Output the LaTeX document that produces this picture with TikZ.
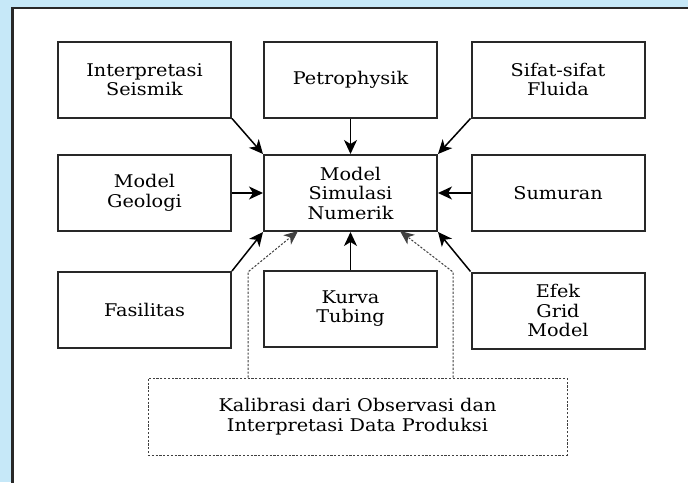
\documentclass[tikz,border=0pt]{standalone}
\usepackage{fontspec}
\setmainfont{DejaVu Serif}[FakeStretch=1.1]
\usetikzlibrary{arrows.meta}
\definecolor{skyback}{RGB}{198,232,248}
\definecolor{boxline}{RGB}{40,40,40}
\tikzset{
  factor/.style={draw=boxline, line width=2pt, fill=white, minimum width=173pt,
    minimum height=76pt, align=center, inner sep=0pt,
    font=\fontsize{17.5}{19.5}\selectfont},
  calib/.style={draw=black!75, line width=1pt, dash pattern=on 2.2pt off 1.6pt,
    minimum width=419pt, minimum height=77pt, align=center, inner sep=0pt,
    font=\fontsize{17.5}{19.5}\selectfont},
  feed/.style={line width=1.5pt, -{Stealth[length=14pt,width=13pt,inset=4pt]}},
  obs/.style={draw=black!75, line width=1pt, dash pattern=on 2.2pt off 1.6pt,
    -{Stealth[length=14pt,width=12pt,inset=4pt]}}
}
\begin{document}
\begin{tikzpicture}[x=1pt, y=-1pt]
  \useasboundingbox (0,0) rectangle (688,482);
  \clip (0,0) rectangle (688,482);
  % Background and panel
  \fill[skyback] (0,0) rectangle (688,482);
  \draw[boxline, line width=2.2pt, fill=white] (12.5,8) rectangle (720,520);

  % Input boxes
  \foreach \name/\x/\y/\txt in {
      seis/144.5/79.5/{Interpretasi\\Seismik},
      petro/350.5/79.5/{Petrophysik},
      fluid/558/79.5/{Sifat-sifat\\Fluida},
      geo/144.5/193/{Model\\Geologi},
      sumur/558/193/{Sumuran},
      fasil/144.5/310/{Fasilitas},
      kurva/350.5/308.5/{Kurva\\Tubing},
      efek/558/310.5/{Efek\\Grid\\Model}} {
    \node[factor] (\name) at (\x,\y) {\txt};
  }
  % Simulation model
  \node[factor] (model) at (350.5,193) {Model\\Simulasi\\Numerik};

  % Calibration box
  \node[calib] (kalib) at (357.5,416.5) {Kalibrasi dari Observasi dan\\Interpretasi Data Produksi};

  % Arrows into the model
  \draw[feed] (seis.south east) -- (model.north west);
  \draw[feed] (petro) -- (model);
  \draw[feed] (fluid.south west) -- (model.north east);
  \draw[feed] (geo) -- (model);
  \draw[feed] (sumur) -- (model);
  \draw[feed] (fasil.north east) -- (model.south west);
  \draw[feed] (kurva) -- (model);
  \draw[feed] (efek.north west) -- (model.south east);

  % Calibration feedback
  \coordinate (bendL) at (248,272);
  \coordinate (bendR) at (453,272);
  \coordinate (tipL) at (298,231);
  \coordinate (tipR) at (400,231);
  \draw[obs] (kalib.north -| bendL) -- (bendL) -- (tipL);
  \draw[obs] (kalib.north -| bendR) -- (bendR) -- (tipR);
\end{tikzpicture}
\end{document}
